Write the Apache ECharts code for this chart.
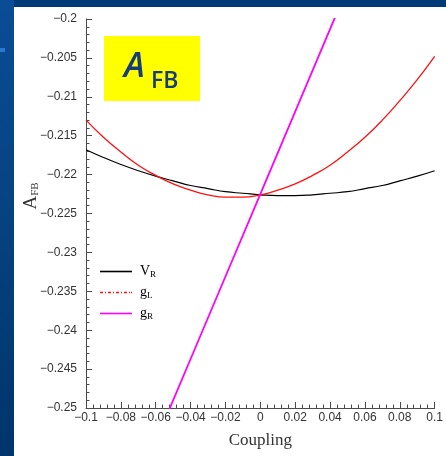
<!DOCTYPE html>
<html>
<head>
<meta charset="utf-8">
<script src="https://cdn.jsdelivr.net/npm/echarts@6/dist/echarts.min.js"></script>
<style>
  html, body { margin: 0; padding: 0; background: #003a76; }
  #chart { width: 446px; height: 456px; }
</style>
</head>
<body>
<div id="chart"></div>
<script>
// Coupling scan points shared by the V_R and g_L curves
const coupling = [-0.10, -0.09, -0.08, -0.07, -0.06, -0.05, -0.04, -0.03, -0.02, -0.01,
                  0.00, 0.01, 0.02, 0.03, 0.04, 0.05, 0.06, 0.07, 0.08, 0.09, 0.10];

// A_FB versus V_R
const afbVR = [-0.2168, -0.2178, -0.2187, -0.2195, -0.2202, -0.2208, -0.2214, -0.2218, -0.2222, -0.2224,
               -0.2226, -0.2227, -0.2227, -0.2226, -0.2224, -0.2222, -0.2218, -0.2214, -0.2208, -0.2202, -0.2195];

// A_FB versus g_L
const afbGL = [-0.2130, -0.2152, -0.2171, -0.2188, -0.2201, -0.2212, -0.2220, -0.2226, -0.2229, -0.2229,
               -0.2226, -0.2220, -0.2212, -0.2201, -0.2188, -0.2171, -0.2152, -0.2130, -0.2105, -0.2078, -0.2048];

// A_FB versus g_R (a straight line through the Standard Model point)
const couplingGR = [-0.06, -0.04, -0.02, 0.00, 0.02, 0.04, 0.06];
const afbGR = [-0.2543, -0.2437, -0.2331, -0.2225, -0.2119, -0.2013, -0.1907];

const seriesNames = ['V_R', 'g_L', 'g_R'];
const seriesColors = ['#000000', '#ff1010', '#ff00ff'];

function pairs(xs, ys) {
  return xs.map((x, i) => [x, ys[i]]);
}

function tickText(v) {
  const s = String(+v.toFixed(4));
  return s.replace('-', '\u2212');
}

// Legend keys are drawn as thin horizontal bars; the g_L key is a dash-dot pattern
const solidKey = 'path://M0,0L32,0L32,1.6L0,1.6Z';
function dashDotKey() {
  let p = '';
  const pattern = [[0, 3], [5, 6]];
  for (let x = 0; x < 32; x += 8) {
    pattern.forEach(([a, b]) => {
      const x0 = x + a, x1 = Math.min(x + b, 32);
      if (x0 < 32) p += 'M' + x0 + ',0L' + x1 + ',0L' + x1 + ',1.6L' + x0 + ',1.6Z';
    });
  }
  // keep the full 32-unit extent so the key spans the same width as the others
  return 'path://' + p + 'M31,0L32,0L32,1.6L31,1.6Z';
}

function legendItem(i, icon) {
  return { name: seriesNames[i], icon: icon, itemStyle: { color: seriesColors[i], borderWidth: 0, opacity: 1 } };
}

const legendRich = {
  m: { fontFamily: 'Liberation Serif', fontSize: 14, color: '#000', lineHeight: 14 },
  s: { fontFamily: 'Liberation Serif', fontSize: 9, color: '#000', lineHeight: 8, padding: [6, 0, 0, 0] }
};

const chart = echarts.init(document.getElementById('chart'), null, { renderer: 'canvas' });

const axisColor = '#4a4a4a';

chart.setOption({
  animation: false,
  backgroundColor: '#003a76',
  graphic: [
    { type: 'rect', shape: { x: 0, y: 0, width: 14, height: 456 },
      style: { fill: new echarts.graphic.LinearGradient(0, 0, 0, 1, [
        { offset: 0, color: '#0a4c96' }, { offset: 0.5, color: '#06427f' }, { offset: 1, color: '#00346c' }]) } },
    { type: 'rect', shape: { x: 0, y: 48, width: 5, height: 4 }, style: { fill: '#2a78d0' } },
    { type: 'rect', shape: { x: 14, y: 7, width: 432, height: 449 }, style: { fill: '#ffffff' } },
    { type: 'rect', shape: { x: 104, y: 36, width: 96, height: 65 }, style: { fill: '#ffff00' } },
    { type: 'text', x: 124, y: 50,
      style: { text: 'A', font: 'italic 600 35px "Open Sans"', fill: '#163c7c' } },
    { type: 'text', x: 151, y: 70,
      style: { text: 'FB', font: '600 23px "Open Sans"', fill: '#163c7c' } },
    { type: 'text', x: 31, y: 196, rotation: Math.PI / 2,
      style: {
        text: '{m|A}{s|FB}', align: 'center', verticalAlign: 'middle',
        rich: {
          m: { fontFamily: 'Liberation Serif', fontSize: 19, fill: '#333', lineHeight: 20 },
          s: { fontFamily: 'Liberation Serif', fontSize: 11, fill: '#333', lineHeight: 20, padding: [9, 0, 0, 0] }
        }
      } }
  ],
  grid: {
    left: 86, top: 19, right: 7, bottom: 48,
    show: true, borderColor: axisColor, borderWidth: 1, backgroundColor: 'transparent'
  },
  legend: {
    orient: 'vertical', left: 100, top: 264, padding: 0,
    itemWidth: 32, itemHeight: 14, itemGap: 6,
    data: [legendItem(0, solidKey), legendItem(1, dashDotKey()), legendItem(2, solidKey)],
    formatter: function (name) {
      const parts = name.split('_');
      return '{m|' + parts[0] + '}{s|' + parts[1] + '}';
    },
    textStyle: { rich: legendRich, padding: [0, 0, 0, 3] }
  },
  xAxis: {
    type: 'value', min: -0.1, max: 0.1, interval: 0.02,
    name: 'Coupling', nameLocation: 'middle', nameGap: 24,
    nameTextStyle: { fontFamily: 'Liberation Serif', fontSize: 17, color: '#333', verticalAlign: 'top' },
    axisLine: { show: true, onZero: false, lineStyle: { color: axisColor, width: 1 } },
    axisTick: { show: true, inside: true, length: 6, lineStyle: { color: axisColor } },
    minorTick: { show: true, splitNumber: 5, length: 3.5, lineStyle: { color: axisColor } },
    splitLine: { show: false },
    axisLabel: { fontFamily: 'Liberation Sans', fontSize: 12, color: '#333', margin: 4, formatter: tickText }
  },
  yAxis: {
    type: 'value', min: -0.25, max: -0.2, interval: 0.005,
    axisLine: { show: true, onZero: false, lineStyle: { color: axisColor, width: 1 } },
    axisTick: { show: true, inside: true, length: 6, lineStyle: { color: axisColor } },
    minorTick: { show: true, splitNumber: 5, length: 3.5, lineStyle: { color: axisColor } },
    splitLine: { show: false },
    axisLabel: { fontFamily: 'Liberation Sans', fontSize: 12, color: '#333', margin: 9, formatter: tickText }
  },
  series: [
    { name: seriesNames[0], type: 'line', data: pairs(coupling, afbVR), smooth: true,
      symbol: 'none', lineStyle: { color: seriesColors[0], width: 1.2 }, itemStyle: { color: seriesColors[0] } },
    { name: seriesNames[1], type: 'line', data: pairs(coupling, afbGL), smooth: true,
      symbol: 'none', lineStyle: { color: seriesColors[1], width: 1.3 }, itemStyle: { color: seriesColors[1] } },
    { name: seriesNames[2], type: 'line', data: pairs(couplingGR, afbGR),
      symbol: 'none', lineStyle: { color: seriesColors[2], width: 1.8 }, itemStyle: { color: seriesColors[2] } }
  ]
});
</script>
</body>
</html>
